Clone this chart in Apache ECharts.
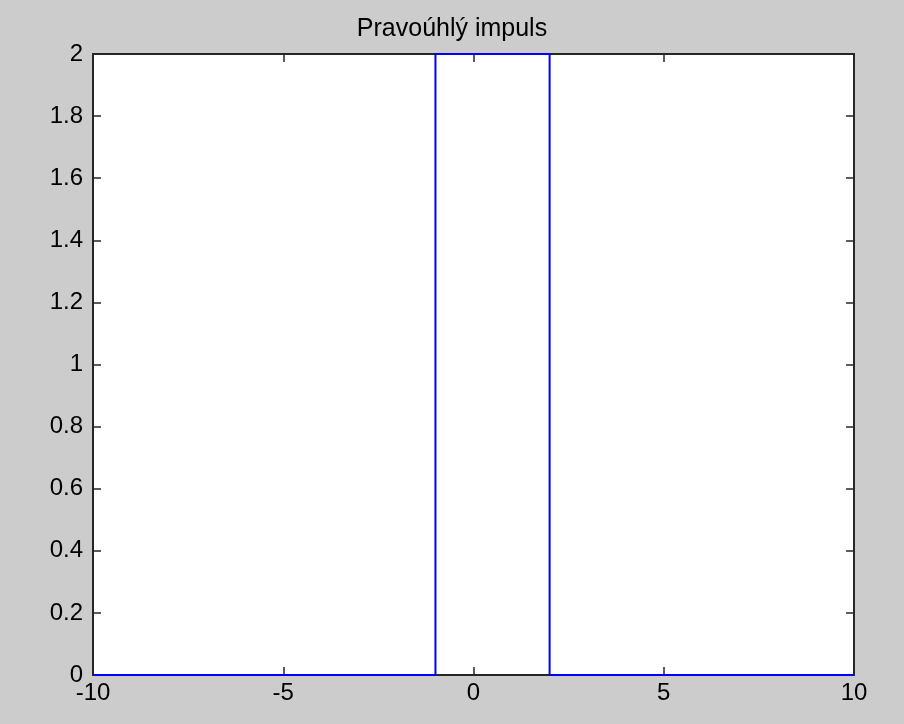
<!DOCTYPE html>
<html>
<head>
<meta charset="utf-8">
<script src="https://cdn.jsdelivr.net/npm/echarts@6/dist/echarts.min.js"></script>
<style>
html,body{margin:0;padding:0;background:#cccccc;}
#chart{width:904px;height:724px;}
</style>
</head>
<body>
<div id="chart"></div>
<script>
var titleText = 'Pravoúhlý impuls';
var xValues = [-10, -1, -1, 2, 2, 10];
var yValues = [0, 0, 2, 2, 0, 0];
var xTicks = [-10, -5, 0, 5, 10];
var yTicks = [0, 0.2, 0.4, 0.6, 0.8, 1, 1.2, 1.4, 1.6, 1.8, 2];

var font = 'Liberation Sans, Arial, sans-serif';
var fs = 24;
var data = xValues.map(function (x, i) { return [x, yValues[i]]; });

var chart = echarts.init(document.getElementById('chart'), null, {renderer: 'canvas'});
var axisLine = {show: true, onZero: false, lineStyle: {color: '#262626', width: 2}};
var tick = {show: true, inside: true, length: 8, lineStyle: {color: '#262626', width: 1.5}};
chart.setOption({
  backgroundColor: '#cccccc',
  animation: false,
  title: {
    text: titleText, left: 'center', top: 12,
    textStyle: {fontFamily: font, fontSize: 25, fontWeight: 'normal', color: '#000'}
  },
  grid: {left: 93, right: 50, top: 54, bottom: 49, show: true, backgroundColor: '#fff', borderWidth: 0},
  xAxis: [
    {type: 'value', position: 'bottom', min: -10, max: 10, interval: 5,
     axisLine: axisLine, axisTick: tick, splitLine: {show: false},
     axisLabel: {fontFamily: font, fontSize: fs, color: '#000', margin: 6,
       formatter: function (v) { return xTicks.indexOf(v) >= 0 ? String(v) : ''; }}},
    {type: 'value', position: 'top', min: -10, max: 10, interval: 5,
     axisLine: axisLine, axisTick: tick, splitLine: {show: false}, axisLabel: {show: false}}
  ],
  yAxis: [
    {type: 'value', position: 'left', min: 0, max: 2, interval: 0.2,
     axisLine: axisLine, axisTick: tick, splitLine: {show: false},
     axisLabel: {fontFamily: font, fontSize: fs, color: '#000', margin: 10,
       formatter: function (v) { return String(Math.round(v * 10) / 10); }}},
    {type: 'value', position: 'right', min: 0, max: 2, interval: 0.2,
     axisLine: axisLine, axisTick: tick, splitLine: {show: false}, axisLabel: {show: false}}
  ],
  series: [{
    type: 'line', data: data, xAxisIndex: 0, yAxisIndex: 0,
    showSymbol: false, symbol: 'none', z: 10,
    lineStyle: {color: '#0000ff', width: 2}
  }]
});
</script>
</body>
</html>
